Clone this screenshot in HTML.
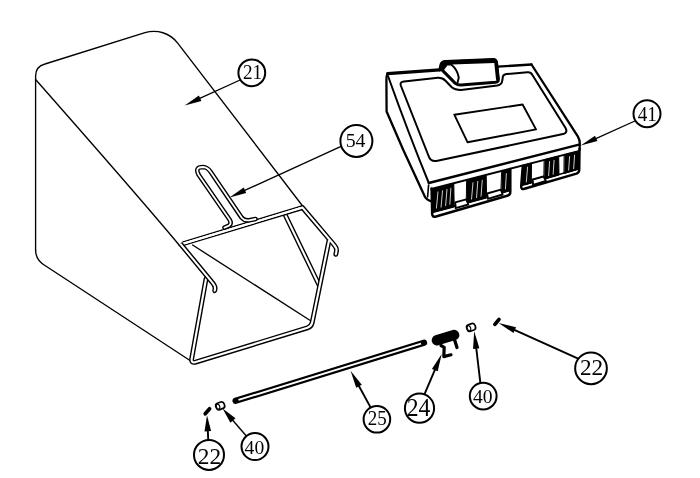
<!DOCTYPE html>
<html><head><meta charset="utf-8"><title>Parts diagram</title>
<style>
html,body{margin:0;padding:0;background:#fff;}
body{width:700px;height:478px;overflow:hidden;font-family:"Liberation Serif",serif;}
svg{display:block;}
text{font-family:"Liberation Serif",serif;fill:#000;}
</style></head><body>
<svg width="700" height="478" viewBox="0 0 700 478">
<rect width="700" height="478" fill="#fff"/>
<!-- BAG (21) -->
<g fill="none" stroke="#000" stroke-width="1.35" stroke-linecap="round" stroke-linejoin="round">
  <path d="M35.6 250 L35.6 76 Q35.6 66.5 45 64 L145 32.7 A30 30 0 0 1 177.7 43.1 L303 206.5"/>
  <path d="M35.6 250 Q35.6 260 45 265.5 L190 360.5"/>
  <path d="M35.6 79.5 Q139.1 197 179.3 245.2"/>
  <path d="M192.6 245 L311 321"/>
</g>
<!-- FRAME -->
<g fill="none" stroke-linecap="round" stroke-linejoin="round">
<path d="M285.6 215.8 L319.3 285.5" stroke="#000" stroke-width="4.9"/>
<path d="M285.6 215.8 L319.3 285.5" stroke="#fff" stroke-width="2.1"/>
<path d="M182.9 243.75 L302.5 207.6" stroke="#000" stroke-width="4.9" stroke-linecap="butt"/>
<path d="M182.9 243.75 L302.5 207.6" stroke="#fff" stroke-width="2.1" stroke-linecap="butt"/>
<path d="M206 279 L191.6 359.3 Q191.3 363 195 362.3 L307.5 327.8 Q311.3 326.6 312.2 322.6 L328.9 241" stroke="#000" stroke-width="4.9"/>
<path d="M302.5 207.6 L334.2 245 Q337.2 248.4 336.4 251.5 L335.8 254.3" stroke="#000" stroke-width="4.9"/>
<path d="M206 279 L191.6 359.3 Q191.3 363 195 362.3 L307.5 327.8 Q311.3 326.6 312.2 322.6 L328.9 241" stroke="#fff" stroke-width="2.1"/>
<path d="M302.5 207.6 L334.2 245 Q337.2 248.4 336.4 251.5 L335.8 254.3" stroke="#fff" stroke-width="2.1"/>
<path d="M182.9 243.75 L302.5 207.6" stroke="#fff" stroke-width="2.1" stroke-linecap="butt"/>
</g>
<g fill="none" stroke-linejoin="round">
<path id="la" d="M180.2 243.6 L211.8 281.9 Q215.6 286 215 289 L214.6 291.3" stroke="#000" stroke-width="4.9" stroke-linecap="butt"/>
<path d="M180.2 243.6 L211.8 281.9 Q215.6 286 215 289 L214.6 291.3" stroke="#fff" stroke-width="2.1" stroke-linecap="butt"/>
<path d="M213.2 291.6 Q214.6 293.6 216.2 291.4" stroke="#000" stroke-width="1.35" stroke-linecap="round"/>
</g>
<!-- HANDLE (54) -->
<g fill="none" stroke-linecap="round" stroke-linejoin="round">
<path d="M224.5 227.6 L229 225.6 Q232 223.5 229.5 219.5 L198.8 175 Q194.3 167 203 167 Q207.5 167.2 210.7 172 L241.6 217.6 Q244.5 221 249 220.3 L255.5 219" stroke="#000" stroke-width="4.6"/>
<path d="M224.5 227.6 L229 225.6 Q232 223.5 229.5 219.5 L198.8 175 Q194.3 167 203 167 Q207.5 167.2 210.7 172 L241.6 217.6 Q244.5 221 249 220.3 L255.5 219" stroke="#fff" stroke-width="1.8"/>
</g>
<!-- COVER (41) -->
<g fill="none" stroke="#000" stroke-linecap="round" stroke-linejoin="round">
  <path d="M387.6 73.6 L439.5 69.9" stroke-width="3.2"/>
  <path d="M497.5 66.7 L531.5 64.5" stroke-width="2.3"/>
  <path d="M531.5 64.5 L577.8 136.3 Q579.9 139.8 579.8 143.5 L579.6 150" stroke-width="2.3"/>
  <path d="M387.2 74.5 Q386.3 76 386.4 80 L386.6 111.5 L403.3 150 L424.8 196.5 Q426.5 200 431.5 201.3" stroke-width="2.3"/>
  <path d="M428.6 185 L427.6 197" stroke-width="1.6"/>
  <path d="M388 76 C398 104 412 142 428.8 183" stroke-width="2"/>
  <path d="M428.8 183 L579 144.6" stroke-width="2.4"/>
  <path d="M431.3 189 L578.6 151.2" stroke-width="1.9"/>
  <!-- inner panel -->
  <path d="M400.8 85.5 Q399.8 82 404 81.4 L438 77.8 Q442.5 77.6 445.5 80.8 L451.5 87 Q455 90 461 90 L497.3 85.5 Q501.9 84.7 502.3 80.5 L502.8 77 Q503.1 74.3 506.6 74 L527.5 72.3 Q530.8 72 532.4 75 L565.4 127.8 Q568.2 132.8 563 134.1 L437.5 160.8 Q430.5 162.3 428.4 155.5 L400.8 85.5 Z" stroke-width="2"/>
  <!-- inner rectangle -->
  <path d="M454.3 114.7 L522.6 104.5 L536 129.4 L467.6 142.3 Z" stroke-width="1.9"/>
  <!-- handle on cover -->
  <path d="M439.8 70 L441 64.5 Q442 61.8 445.6 61.6 L493 59.6 Q496 59.7 496.5 62.5 L498.3 79.3 Q498.6 81.8 495.6 82.3 L461 85.1 Q457.8 85.3 455.3 83.4 L441.8 69.6" stroke-width="3"/>
  <path d="M444.5 62.6 L494.5 60.8" stroke-width="4.4"/>
  <path d="M440 69.5 L441.2 63.2 L448 61.8 L447.2 64.2 L443.2 69.4 Z" fill="#000" stroke-width="1"/>
  <path d="M496 62 L497.8 79" stroke-width="3.6"/>
  <path d="M443.2 69.4 L447.2 64.2 L451.2 64.6 Q457.2 69.5 458.8 77.5 L457.4 83" stroke-width="1.9"/>
</g>
<!-- ribs -->
<g stroke="#000" stroke-linecap="round" stroke-linejoin="round">
  <path d="M431.6 188.5 L432.2 214 Q432.3 217.5 436 216.5 L508 195.5 Q510.3 194.8 510.3 192 L510.3 169" fill="none" stroke-width="2.5"/>
  <path d="M435.7 211.4 L509.3 190.7" fill="none" stroke-width="1.5"/>
  <path d="M432 189.3 L453.8 183.7 L454.2 207 L433 212.6 Z" fill="#000" stroke-width="1"/>
  <path d="M467 180.3 L486.2 175.4 L486.6 198 L466.6 203.4 Z" fill="#000" stroke-width="1"/>
  <path d="M502 171.3 L510.3 169 L510.3 190.3 L501.2 193 Z" fill="#000" stroke-width="1"/>
  <path d="M455.2 202.3 L466.3 199.3 L468.3 204.5 L455.7 208.2 Z" fill="#fff" stroke-width="1.9"/>
  <path d="M487.2 193.5 L500.8 189.7 L502.6 194.5 L487.8 198.8 Z" fill="#fff" stroke-width="1.9"/>
  <path d="M522.8 166 L521.2 186.3 Q521 189.8 524.5 188.8 L576.5 173.6 Q579 172.8 579.2 170 L579.5 149" fill="none" stroke-width="2.5"/>
  <path d="M525 184.5 L578.5 168.8" fill="none" stroke-width="1.5"/>
  <path d="M523 165.3 L531.5 163.1 L531.3 183 L522 185.6 Z" fill="#000" stroke-width="1"/>
  <path d="M544.5 159.8 L558.7 156.2 L559 175 L544.2 179.2 Z" fill="#000" stroke-width="1"/>
  <path d="M564.5 154.7 L579 151 L578.9 169.2 L564.3 173.5 Z" fill="#000" stroke-width="1"/>
  <path d="M532.7 179.5 L543.5 176.5 L546 181 L533 184.8 Z" fill="#fff" stroke-width="1.9"/>
</g>
<g stroke="#fff" stroke-width="0.8" stroke-linecap="butt">
  <path d="M438 191.5 L436.4 208.5 M442.6 190.3 L441 207.5 M447 189 L445.6 206 M450.9 187.8 L449.8 204.6"/>
  <path d="M473 182.3 L471.5 199.5 M477.8 181 L476.5 198 M482.3 179.8 L481 196.6"/>
  <path d="M506.4 173.2 L505.4 189.3"/>
  <path d="M527.6 166.8 L526.3 182.3"/>
  <path d="M549.6 161.2 L548.6 176 M554.1 160 L553.1 174.6"/>
  <path d="M569.6 156.2 L568.6 170.5 M574.6 154.8 L573.6 169"/>
</g>
<!-- ROD (25) -->
<g fill="none" stroke-linecap="round">
  <path d="M235.6 400.85 L424 342.8" stroke="#000" stroke-width="6.3"/>
  <path d="M238.5 399.95 L421 343.7" stroke="#fff" stroke-width="1.9" stroke-linecap="butt"/>
</g>
<ellipse cx="423.8" cy="342.9" rx="1.6" ry="2.4" fill="#000" transform="rotate(-17 423.8 342.9)"/>
<ellipse cx="237" cy="400.5" rx="1.1" ry="1.6" fill="#000" transform="rotate(-17 237 400.5)"/>
<!-- SPRING (24) -->
<g stroke="#000" stroke-linecap="round" stroke-linejoin="round" fill="none">
  <path d="M436.8 340.3 L454.2 335" stroke-width="10.3"/>
  <path d="M454.3 339 L457 347.5" stroke-width="3.3"/>
  <path d="M441 345.5 L444.2 347.3 L443.8 356.6 L451 354.8" stroke-width="3.2"/>
</g>
<!-- BUSHINGS (40) -->
<g transform="translate(220.2 405.8) rotate(-20)" stroke="#000" stroke-width="1.7" fill="#fff">
  <rect x="-4.4" y="-3.4" width="8.8" height="6.8" rx="2.6" ry="3.2"/>
  <ellipse cx="-2.3" cy="0" rx="1.7" ry="2.6" stroke-width="1.2"/>
</g>
<g transform="translate(471.1 327.4) rotate(-20)" stroke="#000" stroke-width="1.7" fill="#fff">
  <rect x="-4.4" y="-3.4" width="8.8" height="6.8" rx="2.6" ry="3.2"/>
  <ellipse cx="-2.3" cy="0" rx="1.7" ry="2.6" stroke-width="1.2"/>
</g>
<!-- CLIPS (22) -->
<g stroke="#000" stroke-width="3.7" stroke-linecap="round">
  <path d="M205.2 413.8 L209.6 408.8"/>
  <path d="M494.9 324.4 L499 319.4"/>
</g>
<!-- CALLOUT ARROWS -->
<g>
<path d="M242.3 79.0 L199.2 98.7" stroke="#000" stroke-width="1.3" fill="none"/><path d="M184.7 105.4 L201.4 101.0 L198.9 95.6 Z" fill="#000"/>
<path d="M343.8 145.2 L244.1 190.7" stroke="#000" stroke-width="1.3" fill="none"/><path d="M229.5 197.4 L246.2 193.1 L243.7 187.6 Z" fill="#000"/>
<path d="M637.1 120.0 L595.3 138.8" stroke="#000" stroke-width="1.3" fill="none"/><path d="M580.7 145.4 L597.4 141.1 L595.0 135.7 Z" fill="#000"/>
<path d="M371.4 408.9 L358.5 385.3" stroke="#000" stroke-width="1.9" fill="none"/><path d="M350.6 370.8 L356.2 387.7 L361.8 384.7 Z" fill="#000"/>
<path d="M423.9 395.7 L435.2 369.2" stroke="#000" stroke-width="1.9" fill="none"/><path d="M441.7 354.0 L431.9 368.9 L437.7 371.3 Z" fill="#000"/>
<path d="M480.6 384.9 L476.2 347.6" stroke="#000" stroke-width="1.9" fill="none"/><path d="M474.2 331.2 L473.1 348.9 L479.4 348.2 Z" fill="#000"/>
<path d="M579.8 359.3 L513.8 329.7" stroke="#000" stroke-width="2.0" fill="none"/><path d="M498.6 322.9 L513.5 333.0 L516.0 327.3 Z" fill="#000"/>
<path d="M247.0 436.7 L232.3 419.8" stroke="#000" stroke-width="1.4" fill="none"/><path d="M222.6 408.6 L230.4 422.8 L235.5 418.3 Z" fill="#000"/>
<path d="M208.4 443.5 L207.8 430.3" stroke="#000" stroke-width="1.9" fill="none"/><path d="M207.0 415.3 L204.5 431.4 L211.1 431.1 Z" fill="#000"/>
</g>
<!-- CALLOUT CIRCLES -->
<g fill="#fff" stroke="#000" stroke-width="2">
  <circle cx="251.8" cy="72.8" r="13.4"/>
  <circle cx="356.4" cy="140.9" r="16.0"/>
  <circle cx="647.0" cy="113.7" r="13.5"/>
  <circle cx="376.9" cy="419.3" r="13.3"/>
  <circle cx="419.5" cy="408.2" r="14.6"/>
  <circle cx="483.2" cy="396.1" r="13.4"/>
  <circle cx="591.0" cy="368.3" r="15.85"/>
  <circle cx="255.0" cy="446.6" r="13.5"/>
  <circle cx="209.0" cy="454.9" r="15.0"/>
</g>
<g text-anchor="middle" opacity="0.99">
  <text transform="translate(252.6 79.40) scale(0.96 1)" font-size="20.0">21</text>
  <text transform="translate(355.6 147.40) scale(1.0 1)" font-size="19.8">54</text>
  <text transform="translate(647.3 120.90) scale(0.95 1)" font-size="20.2">41</text>
  <text transform="translate(377.3 425.40) scale(0.95 1)" font-size="20.0">25</text>
  <text transform="translate(418.5 416.10) scale(0.98 1)" font-size="24.2">24</text>
  <text transform="translate(482.7 402.70) scale(1.0 1)" font-size="19.6">40</text>
  <text transform="translate(591.6 374.90) scale(1.0 1)" font-size="23.2">22</text>
  <text transform="translate(254.4 453.70) scale(1.0 1)" font-size="19.6">40</text>
  <text transform="translate(209.4 463.60) scale(1.0 1)" font-size="23.3">22</text>
</g>
</svg>
</body></html>
